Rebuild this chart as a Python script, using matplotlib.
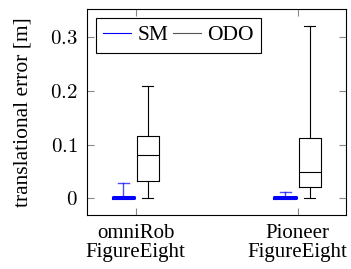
import matplotlib
matplotlib.use("Agg")
import matplotlib.pyplot as plt
from matplotlib.lines import Line2D

plt.rcParams['font.family'] = ['Liberation Serif', 'DejaVu Serif']
plt.rcParams['mathtext.fontset'] = 'cm'

categories = ["omniRob\nFigureEight", "Pioneer\nFigureEight"]
# whislo, q1, med, q3, whishi
sm_stats = [[0.0, 0.0, 0.001, 0.002, 0.029],
            [0.0, 0.0, 0.001, 0.002, 0.012]]
odo_stats = [[0.0, 0.032, 0.080, 0.115, 0.209],
             [0.0, 0.022, 0.049, 0.112, 0.319]]
yticks = [0, 0.1, 0.2, 0.3]
ytick_labels = ["0", "0.1", "0.2", "0.3"]

def to_bxp(rows, names):
    out = []
    for r, n in zip(rows, names):
        out.append(dict(whislo=r[0], q1=r[1], med=r[2], q3=r[3], whishi=r[4],
                        fliers=[], label=n))
    return out

fig = plt.figure(figsize=(3.51, 2.69), dpi=100)
ax = fig.add_axes([0.248, 0.2, 0.738, 0.766])

pos = [1, 2]
off = 0.075
w = 0.135

blue = '#0000ff'
ax.bxp(to_bxp(sm_stats, categories), positions=[p - off for p in pos], widths=w,
       showfliers=False, manage_ticks=False,
       boxprops=dict(color=blue, lw=2.2), medianprops=dict(color=blue, lw=2.2),
       whiskerprops=dict(color=blue, lw=1.0, alpha=0.7), capprops=dict(color=blue, lw=1.0, alpha=0.7))
ax.bxp(to_bxp(odo_stats, categories), positions=[p + off for p in pos], widths=w,
       showfliers=False, manage_ticks=False,
       boxprops=dict(color='black', lw=0.8), medianprops=dict(color='black', lw=0.8),
       whiskerprops=dict(color='black', lw=0.8), capprops=dict(color='black', lw=0.8))

ax.set_xlim(0.7, 2.3)
ax.set_ylim(-0.031, 0.351)
ax.set_xticks(pos)
ax.set_xticklabels(categories, fontsize=15, linespacing=1.0)
ax.set_yticks(yticks)
ax.set_yticklabels(["$" + t + "$" for t in ytick_labels], fontsize=15)
ax.tick_params(direction='in', top=True, right=True, color='#888888', length=5, pad=6.5)
ax.set_ylabel("translational error [m]", fontsize=15.5, labelpad=13)
for s in ax.spines.values():
    s.set_linewidth(0.8)

handles = [Line2D([], [], color=blue, lw=0.8), Line2D([], [], color='#555555', lw=0.8)]
leg = ax.legend(handles, ["SM", "ODO"], loc='upper left', ncol=2, fontsize=15.5,
                handlelength=1.3, handletextpad=0.3, columnspacing=0.2,
                fancybox=False, edgecolor='black', framealpha=1,
                borderaxespad=0.4, borderpad=0.35)
leg.get_frame().set_linewidth(0.8)

fig.savefig("out.png", dpi=100)
